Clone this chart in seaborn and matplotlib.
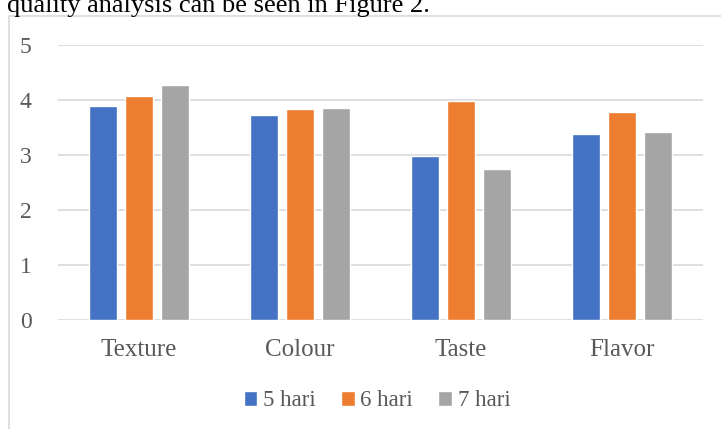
import matplotlib
matplotlib.use("Agg")
import matplotlib.pyplot as plt
import seaborn as sns
import pandas as pd
from matplotlib.patches import Rectangle

categories = ["Texture", "Colour", "Taste", "Flavor"]
series_names = ["5 hari", "6 hari", "7 hari"]
hari5 = [3.89, 3.73, 2.98, 3.39]
hari6 = [4.07, 3.83, 3.99, 3.79]
hari7 = [4.27, 3.85, 2.74, 3.41]
yticks = [0, 1, 2, 3, 4, 5]
colors = ["#4472C4", "#ED7D31", "#A5A5A5"]

rows = []
for name, vals in zip(series_names, [hari5, hari6, hari7]):
    for c, v in zip(categories, vals):
        rows.append({"cat": c, "series": name, "value": v})
df = pd.DataFrame(rows)

sns.set_theme(style="white")
plt.rcParams["font.family"] = ["Liberation Serif", "DejaVu Serif"]

W, H = 721, 429
fig = plt.figure(figsize=(W / 100, H / 100), dpi=100)
ax = fig.add_axes([58 / W, 1 - 320 / H, (703 - 58) / W, (320 - 45) / H])

sns.barplot(data=df, x="cat", y="value", hue="series", order=categories,
            hue_order=series_names, palette=colors, width=0.67, gap=0.22,
            ax=ax, saturation=1, legend=True)

ax.set_ylim(0, 5)
ax.set_xlim(-0.5, 3.5)
ax.set_yticks(yticks)
ax.set_yticklabels([str(t) for t in yticks])
ax.grid(axis="y", color="#D9D9D9", linewidth=1.2)
ax.set_axisbelow(True)
for s in ax.spines.values():
    s.set_visible(False)
ax.set_xlabel("")
ax.set_ylabel("")
ax.tick_params(axis="both", length=0, colors="#595959")
ax.tick_params(axis="y", pad=19, labelsize=17)
ax.tick_params(axis="x", pad=14, labelsize=18)

leg = ax.legend(loc="center", bbox_to_anchor=(377 / W, 1 - 401 / H),
                bbox_transform=fig.transFigure, ncol=3, frameon=False,
                fontsize=16.5, handlelength=0.6, handleheight=0.6,
                handletextpad=0.25, columnspacing=1.1)
for t in leg.get_texts():
    t.set_color("#595959")

# chart frame (partially visible)
fig.patches.append(Rectangle((9 / W, -0.1), 1.2, 1 - 16 / H + 0.1,
                             transform=fig.transFigure, fill=False,
                             edgecolor="#D9D9D9", linewidth=1.2))
fig.text(7 / W, 1 - 12 / H, "quality analysis can be seen in Figure 2.",
         fontsize=19, color="black", va="baseline", ha="left")

fig.savefig("out.png", dpi=100)
